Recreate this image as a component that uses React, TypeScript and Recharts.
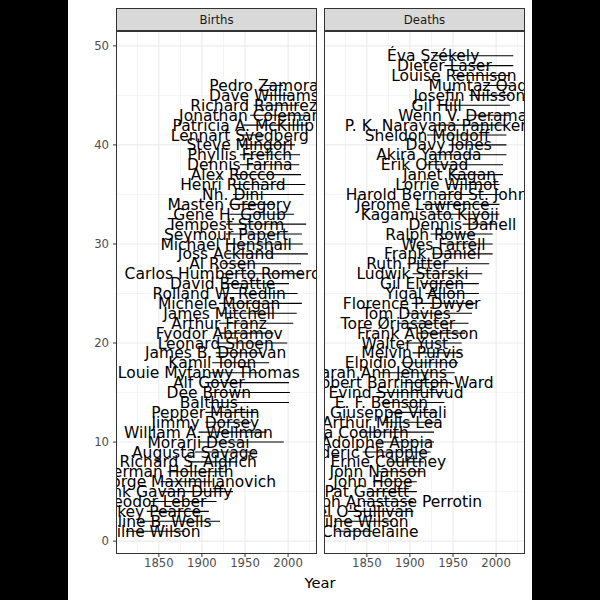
import {
  CartesianGrid,
  ReferenceLine,
  Scatter,
  ScatterChart,
  XAxis,
  YAxis,
} from "recharts";

// rows bottom -> top, sorted by birth year
const birthNames = [
  "James Milne Wilson", "Emmeline B. Wells", "Dickey Pearce", "Theodor Leber",
  "Frank Gavan Duffy", "Duke George Maximilianovich", "Herman Hollerith",
  "Richard S. Aldrich", "Augusta Savage", "Morarji Desai", "William A. Wellman",
  "Jimmy Dorsey", "Pepper Martin", "Balthus", "Dee Brown", "Alf Gover",
  "Louie Myfanwy Thomas", "Kamil Tolon", "James B. Donovan", "Leonard Shoen",
  "Fyodor Abramov", "Arthur Franz", "James Mitchell", "Michele Morgan",
  "Rolland W. Redlin", "David Beattie", "Carlos Humberto Romero", "Al Rosen",
  "Joss Ackland", "Michael Henshall", "Seymour Papert", "Tempest Storm",
  "Gene H. Golub", "Masten Gregory", "Nh. Dini", "Henri Richard", "Alex Rocco",
  "Dennis Farina", "Phyllis Frelich", "Steve Mingori", "Lennart Svedberg",
  "Patricia A. McKillip", "Jonathan Coleman", "Richard Ramirez",
  "Dave Williams", "Pedro Zamora",
];
const birthBorn = [
  1812, 1828, 1836, 1840, 1852, 1852, 1860, 1884, 1892, 1896, 1896, 1904, 1904,
  1908, 1908, 1908, 1908, 1912, 1916, 1916, 1920, 1920, 1920, 1920, 1920, 1924,
  1924, 1924, 1928, 1928, 1928, 1928, 1932, 1932, 1936, 1936, 1936, 1944, 1944,
  1944, 1944, 1948, 1956, 1960, 1972, 1972,
];
const birthDied = [
  1880, 1921, 1908, 1917, 1936, 1912, 1929, 1941, 1962, 1995, 1975, 1957, 1965,
  2001, 2002, 2001, 1968, 1978, 1970, 1999, 1983, 2006, 2010, 2016, 2011, 2001,
  2017, 2015, 2023, 2017, 2016, 2021, 2007, 1985, 2018, 2020, 2015, 2013, 2014,
  2008, 1972, 2022, 2021, 2013, 2002, 1994,
];

// rows bottom -> top, sorted by death year
const deathNames = [
  "Auguste Chapdelaine", "James Milne Wilson", "Daniel O'Sullivan",
  "Henri Joseph Anastase Perrotin", "Pat Garrett", "John Hope", "John Nanson",
  "Ernie Courtney", "Frederic Chapple", "Adolphe Appia", "Ina Coolbrith",
  "Arthur Mills Lea", "Giuseppe Vitali", "E. F. Benson", "Pehr Evind Svinhufvud",
  "Robert Barrington-Ward", "Sarah Ann Jenyns", "Elpidio Quirino",
  "Melvin Purvis", "Walter Yust", "Frank Albertson", "Tore Ørjasæter",
  "Tom Davies", "Florence P. Dwyer", "Yigal Allon", "Gil Elvgren",
  "Ludwik Starski", "Ruth Pitter", "Frank Daniel", "Wes Farrell", "Ralph Rowe",
  "Dennis Danell", "Kagamisato Kiyoji", "Jerome Lawrence",
  "Harold Bernard St. John", "Lorrie Wilmot", "Janet Kagan", "Erik Ortvad",
  "Akira Yamada", "Davy Jones", "Sheldon Moldoff", "P. K. Narayana Panicker",
  "Wenn V. Deramas", "Gil Hill", "Josefin Nilsson", "Mumtaz Qadri",
  "Louise Rennison", "Dieter Laser", "Éva Székely",
];
const deathBorn = [
  1814, 1812, 1828, 1845, 1850, 1857, 1863, 1875, 1845, 1862, 1841, 1868, 1875,
  1867, 1861, 1891, 1864, 1890, 1903, 1894, 1909, 1886, 1896, 1902, 1918, 1914,
  1903, 1897, 1926, 1939, 1924, 1961, 1923, 1915, 1931, 1943, 1946, 1917, 1922,
  1945, 1920, 1930, 1966, 1931, 1969, 1985, 1951, 1940, 1927,
];
const deathDied = [
  1856, 1880, 1904, 1904, 1908, 1908, 1916, 1916, 1924, 1928, 1928, 1932, 1932,
  1940, 1944, 1948, 1952, 1956, 1960, 1960, 1964, 1968, 1972, 1976, 1980, 1980,
  1984, 1992, 1996, 1996, 1996, 2000, 2004, 2004, 2004, 2004, 2008, 2008, 2012,
  2012, 2012, 2012, 2016, 2016, 2016, 2016, 2016, 2020, 2020,
];

const xTicks = [1850, 1900, 1950, 2000];
const xMinor = [1825, 1875, 1925, 1975, 2025];
const yTicks = [0, 10, 20, 30, 40, 50];
const yMinor = [5, 15, 25, 35, 45];

const FONT = "'DejaVu Sans', sans-serif";
const X_DOMAIN = [1801.45, 2033.55];
const Y_DOMAIN = [-1.2, 51.5];

function NameLabel(props: any) {
  const { cx, cy, payload } = props;
  return (
    <text
      x={cx}
      y={cy}
      dy="0.36em"
      textAnchor="middle"
      fontSize={15.5}
      fontFamily={FONT}
      fill="#000"
    >
      {payload.name}
    </text>
  );
}

function Panel({
  names,
  born,
  died,
  title,
  left,
  showY,
}: {
  names: string[];
  born: number[];
  died: number[];
  title: string;
  left: number;
  showY: boolean;
}) {
  const rows = names.map((name, i) => ({ name, x: born[i], end: died[i], y: i + 1 }));
  const yw = showY ? 37 : 0;
  const plotLeft = left + yw;
  return (
    <>
      <div
        style={{
          position: "absolute",
          left: plotLeft - 1,
          top: 8,
          width: 201,
          height: 23,
          boxSizing: "border-box",
          background: "#D9D9D9",
          border: "1px solid #333333",
          fontFamily: FONT,
          fontSize: 11.7,
          color: "#1A1A1A",
          display: "flex",
          alignItems: "center",
          justifyContent: "center",
        }}
      >
        {title}
      </div>
      <div style={{ position: "absolute", left, top: 31 }}>
        <ScatterChart
          width={200 + yw}
          height={560}
          margin={{ top: 0, right: 0, bottom: 0, left: 0 }}
        >
          <CartesianGrid
            verticalValues={xMinor}
            horizontalValues={yMinor}
            stroke="#EBEBEB"
            strokeWidth={0.55}
          />
          <CartesianGrid
            verticalValues={xTicks}
            horizontalValues={yTicks}
            stroke="#EBEBEB"
            strokeWidth={1.1}
          />
          <XAxis
            type="number"
            dataKey="x"
            domain={X_DOMAIN}
            allowDataOverflow
            ticks={xTicks}
            height={38}
            axisLine={false}
            tickLine={{ stroke: "#333333" }}
            tickSize={4}
            tickMargin={2}
            tick={{ fill: "#4D4D4D", fontSize: 11.7, fontFamily: FONT }}
          />
          <YAxis
            type="number"
            dataKey="y"
            domain={Y_DOMAIN}
            allowDataOverflow
            ticks={yTicks}
            width={yw}
            hide={!showY}
            axisLine={false}
            tickLine={{ stroke: "#333333" }}
            tickSize={4}
            tickMargin={4}
            tick={{ fill: "#4D4D4D", fontSize: 11.7, fontFamily: FONT }}
          />
          {rows.map((r) => (
            <ReferenceLine
              key={r.name + r.y}
              segment={[
                { x: r.x, y: r.y },
                { x: r.end, y: r.y },
              ]}
              stroke="#000"
              strokeWidth={1.1}
            />
          ))}
          <Scatter data={rows} shape={NameLabel} isAnimationActive={false} />
        </ScatterChart>
      </div>
      <div
        style={{
          position: "absolute",
          left: plotLeft - 1,
          top: 31,
          width: 201,
          height: 523,
          boxSizing: "border-box",
          border: "1px solid #333333",
          pointerEvents: "none",
        }}
      />
    </>
  );
}

export default function App() {
  return (
    <div
      style={{
        position: "absolute",
        left: 0,
        top: 0,
        width: 600,
        height: 600,
        background: "#000",
      }}
    >
      <div
        style={{
          position: "absolute",
          left: 68,
          top: 0,
          width: 464,
          height: 600,
          background: "#fff",
        }}
      />
      <Panel
        names={birthNames}
        born={birthBorn}
        died={birthDied}
        title="Births"
        left={80}
        showY
      />
      <Panel
        names={deathNames}
        born={deathBorn}
        died={deathDied}
        title="Deaths"
        left={325}
        showY={false}
      />
      <div
        style={{
          position: "absolute",
          left: 270,
          width: 100,
          top: 574,
          textAlign: "center",
          fontFamily: FONT,
          fontSize: 14.7,
          color: "#000",
        }}
      >
        Year
      </div>
    </div>
  );
}
